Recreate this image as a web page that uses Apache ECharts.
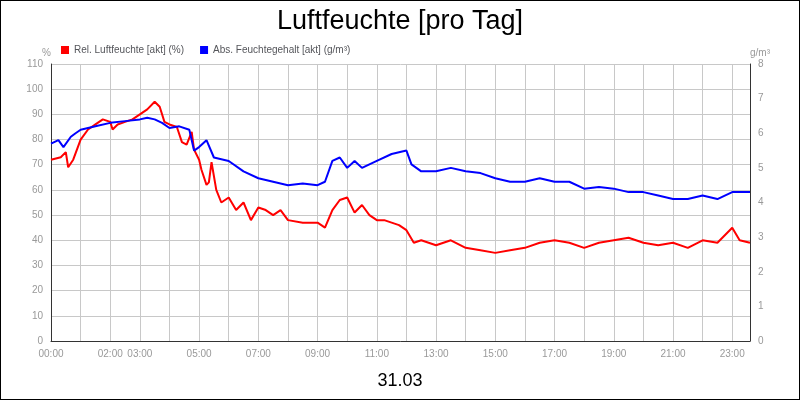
<!DOCTYPE html><html><head><meta charset="utf-8">
<script src="https://cdn.jsdelivr.net/npm/echarts@6/dist/echarts.min.js"></script>
<style>html,body{margin:0;padding:0}#c{width:798px;height:398px;border:1px solid #000}</style></head><body><div id="c"></div><script>
const relTimes=[0,0.33,0.5,0.58,0.75,1,1.25,1.5,1.75,2,2.08,2.25,2.5,2.75,3,3.25,3.5,3.67,3.83,4,4.25,4.42,4.58,4.75,4.83,5,5.08,5.25,5.33,5.42,5.58,5.75,6,6.25,6.5,6.75,7,7.25,7.5,7.75,8,8.5,9,9.25,9.5,9.75,10,10.25,10.5,10.75,11,11.25,11.5,11.75,12,12.25,12.5,13,13.5,14,14.5,15,15.5,16,16.5,17,17.5,18,18.5,19,19.5,20,20.5,21,21.5,22,22.5,23,23.25,23.6];
const relValues=[72,73,75,69,72,80,84,86,88,87,84,86,87,88,90,92,95,93,87,86,85,79,78,83,76,72,68,62,63,71,60,55,57,52,55,48,53,52,50,52,48,47,47,45,52,56,57,51,54,50,48,48,47,46,44,39,40,38,40,37,36,35,36,37,39,40,39,37,39,40,41,39,38,39,37,40,39,45,40,39];
const absTimes=[0,0.25,0.42,0.67,0.83,1,1.5,2,2.5,3,3.25,3.5,3.75,4,4.33,4.67,4.83,5,5.25,5.5,6,6.5,7,7.5,8,8.5,9,9.25,9.5,9.75,10,10.25,10.5,11,11.5,12,12.17,12.5,13,13.5,14,14.5,15,15.5,16,16.5,17,17.5,18,18.5,19,19.5,20,20.5,21,21.5,22,22.5,23,23.6];
const absValues=[5.7,5.8,5.6,5.9,6.0,6.1,6.2,6.3,6.35,6.4,6.45,6.4,6.3,6.15,6.2,6.1,5.5,5.6,5.8,5.3,5.2,4.9,4.7,4.6,4.5,4.55,4.5,4.6,5.2,5.3,5.0,5.2,5.0,5.2,5.4,5.5,5.1,4.9,4.9,5.0,4.9,4.85,4.7,4.6,4.6,4.7,4.6,4.6,4.4,4.45,4.4,4.3,4.3,4.2,4.1,4.1,4.2,4.1,4.3,4.3];
const shownHours=[0,2,3,5,7,9,11,13,15,17,19,21,23];
const pad=h=>(h<10?'0':'')+h+':00';
const F='Liberation Sans';
const c=echarts.init(document.getElementById('c'));
const ax={axisLabel:{color:'#999',fontSize:10,fontFamily:F},splitLine:{lineStyle:{color:'#c8c8c8'}},axisLine:{show:true,lineStyle:{color:'#333'}},axisTick:{show:false}};
c.setOption({backgroundColor:'#fff',animation:false,
title:[{text:'Luftfeuchte [pro Tag]',left:'center',top:2,textStyle:{fontSize:27,fontWeight:'normal',color:'#000',fontFamily:F}},
{text:'31.03',left:'center',top:366,textStyle:{fontSize:18,fontWeight:'normal',color:'#000',fontFamily:F}}],
legend:{left:55,top:39,itemWidth:8,itemHeight:8,itemGap:16,icon:'rect',textStyle:{fontSize:10,fontFamily:F},data:['Rel. Luftfeuchte [akt] (%)','Abs. Feuchtegehalt [akt] (g/m³)']},
grid:{left:50,right:49,top:63,bottom:58},
xAxis:{type:'value',min:0,max:23.6,interval:1,...ax,axisLabel:{...ax.axisLabel,formatter:v=>shownHours.includes(v)?pad(v):''}},
yAxis:[{type:'value',min:0,max:110,interval:10,name:'%',nameGap:6,nameTextStyle:{color:'#999',fontSize:10,align:'right',fontFamily:F},...ax},
{type:'value',min:0,max:8,interval:1,name:'g/m³',nameGap:6,nameTextStyle:{color:'#999',fontSize:10,align:'left',fontFamily:F},...ax,splitLine:{show:false}}],
series:[{name:'Rel. Luftfeuchte [akt] (%)',type:'line',showSymbol:false,color:'#f00',lineStyle:{width:2},data:relTimes.map((t,i)=>[t,relValues[i]])},
{name:'Abs. Feuchtegehalt [akt] (g/m³)',type:'line',yAxisIndex:1,showSymbol:false,color:'#00f',lineStyle:{width:2},data:absTimes.map((t,i)=>[t,absValues[i]])}]});
</script></body></html>
